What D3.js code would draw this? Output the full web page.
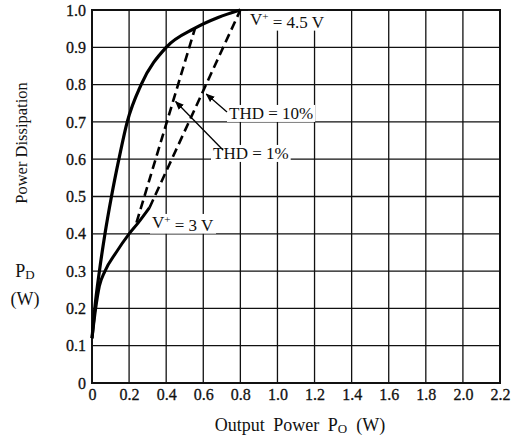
<!DOCTYPE html>
<html><head><meta charset="utf-8">
<script src="https://cdn.jsdelivr.net/npm/d3@7"></script>
<style>body{margin:0;background:#fff}svg{display:block}text{font-family:"Liberation Serif","DejaVu Serif",serif;fill:#111}</style>
</head><body><svg id="c" width="516" height="437"></svg>
<script>
const xTicks = [0,0.2,0.4,0.6,0.8,1.0,1.2,1.4,1.6,1.8,2.0,2.2];
const yTicks = [0,0.1,0.2,0.3,0.4,0.5,0.6,0.7,0.8,0.9,1.0];
const curve45 = [[0,0.12],[0.015,0.2],[0.04,0.3],[0.07,0.4],[0.105,0.5],[0.145,0.6],[0.19,0.7],[0.265,0.8],[0.4,0.9],[0.55,0.95],[0.68,0.98],[0.8,1.0]];
const curve3 = [[0,0.12],[0.02,0.2],[0.04,0.26],[0.07,0.3],[0.13,0.35],[0.2,0.4],[0.25,0.43],[0.31,0.47]];
const thd1 = [[0.24,0.43],[0.555,0.95]];
const thd10 = [[0.31,0.47],[0.8,1.0]];

const svg = d3.select("#c");
const x = d3.scaleLinear().domain([0,2.2]).range([92,500]);
const y = d3.scaleLinear().domain([0,1]).range([383,10]);

// grid
const g = svg.append("g");
g.selectAll("line.v").data(xTicks).join("line")
  .attr("x1",d=>x(d)).attr("x2",d=>x(d)).attr("y1",y(0)).attr("y2",y(1))
  .attr("stroke","#111").attr("stroke-width",1.3);
g.selectAll("line.h").data(yTicks).join("line")
  .attr("x1",x(0)).attr("x2",x(2.2)).attr("y1",d=>y(d)).attr("y2",d=>y(d))
  .attr("stroke","#111").attr("stroke-width",1.3);
g.append("rect").attr("x",x(0)).attr("y",y(1)).attr("width",x(2.2)-x(0)).attr("height",y(0)-y(1))
  .attr("fill","none").attr("stroke","#111").attr("stroke-width",2);

// axes labels via d3 axes
const xa = svg.append("g").attr("transform",`translate(0,${y(0)})`)
  .call(d3.axisBottom(x).tickValues(xTicks).tickSize(0).tickPadding(6).tickFormat(d=>d===0?"0":d3.format(".1f")(d)));
const ya = svg.append("g").attr("transform",`translate(${x(0)},0)`)
  .call(d3.axisLeft(y).tickValues(yTicks).tickSize(0).tickPadding(6).tickFormat(d=>d===0?"0":d3.format(".1f")(d)));
[xa,ya].forEach(a=>{a.select(".domain").remove();a.selectAll("text").attr("font-size",16).attr("font-family","Liberation Serif")
  .attr("fill","#111").attr("stroke","#111").attr("stroke-width",0.3);});

// curves
const line = d3.line().x(d=>x(d[0])).y(d=>y(d[1]));
const smooth = d3.line().x(d=>x(d[0])).y(d=>y(d[1])).curve(d3.curveMonotoneX);
svg.append("path").attr("d",smooth(curve45)).attr("fill","none").attr("stroke","#000").attr("stroke-width",3.2);
svg.append("path").attr("d",smooth(curve3)).attr("fill","none").attr("stroke","#000").attr("stroke-width",3);
[thd1,thd10].forEach(d=>svg.append("path").attr("d",line(d)).attr("fill","none").attr("stroke","#000")
  .attr("stroke-width",2.6).attr("stroke-dasharray","9,5"));

// annotations
svg.append("defs").append("marker").attr("id","ar").attr("viewBox","0 0 10 10").attr("refX",9).attr("refY",5)
  .attr("markerWidth",9).attr("markerHeight",9).attr("orient","auto").attr("markerUnits","userSpaceOnUse")
  .append("path").attr("d","M0,1L10,5L0,9z").attr("fill","#000");
function label(txt, lx, cy, size){
  const lg = svg.append("g");
  const r = lg.append("rect").attr("fill","#fff");
  const t = lg.append("text").attr("x",lx).attr("y",cy).attr("dy","0.35em").attr("font-size",size);
  txt(t);
  const b = t.node().getBBox();
  r.attr("x",b.x-2).attr("y",b.y+1).attr("width",b.width+4).attr("height",b.height-2);
  return t;
}
function vlabel(t, v){ t.append("tspan").text("V"); t.append("tspan").attr("font-size","0.65em").attr("dy","-0.45em").text("+");
  t.append("tspan").attr("dy","0.45em").text(" = "+v); }
label(t=>vlabel(t,"4.5 V"), 250, 19, 17);
label(t=>vlabel(t,"3 V"), 152, 222, 17);
label(t=>t.text("THD = 10%"), 229, 113, 17);
label(t=>t.text("THD = 1%"), 213, 153, 17);
svg.append("line").attr("x1",227).attr("y1",112).attr("x2",x(0.6)+3).attr("y2",y(0.78)+2)
  .attr("stroke","#000").attr("stroke-width",1.3).attr("marker-end","url(#ar)");
svg.append("line").attr("x1",223).attr("y1",150).attr("x2",x(0.44)+2).attr("y2",y(0.76)+2)
  .attr("stroke","#000").attr("stroke-width",1.3).attr("marker-end","url(#ar)");

// axis titles
svg.append("text").attr("transform","translate(27,143) rotate(-90)").attr("text-anchor","middle").attr("font-size",16.5).text("Power Dissipation");
const pd = svg.append("text").attr("x",25).attr("y",277).attr("text-anchor","middle").attr("font-size",18);
pd.append("tspan").text("P"); pd.append("tspan").attr("font-size",13).attr("dy",2).text("D");
svg.append("text").attr("x",25).attr("y",305).attr("text-anchor","middle").attr("font-size",18).text("(W)");
const xt = svg.append("text").attr("x",300).attr("y",431).attr("text-anchor","middle").attr("font-size",18).attr("word-spacing",4);
xt.append("tspan").text("Output Power P"); xt.append("tspan").attr("font-size",13).attr("dy",2).text("O");
xt.append("tspan").attr("dy",-2).text("\u2002(W)");
</script></body></html>
